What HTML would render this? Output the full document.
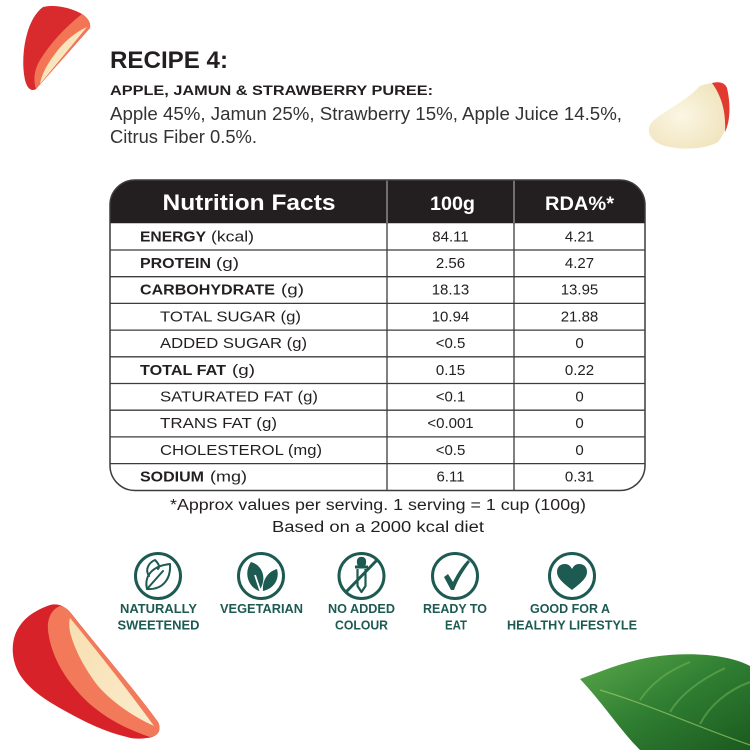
<!DOCTYPE html>
<html><head><meta charset="utf-8"><style>
html,body{margin:0;padding:0;background:#fff;}
svg{display:block;}
text{font-family:"Liberation Sans",sans-serif;}
</style></head><body>
<svg width="750" height="750" viewBox="0 0 750 750" xmlns="http://www.w3.org/2000/svg">
<defs>
<linearGradient id="leafg" x1="0" y1="0" x2="1" y2="1">
<stop offset="0" stop-color="#5aa84a"/><stop offset="0.5" stop-color="#2f7e32"/><stop offset="1" stop-color="#1b5a1f"/>
</linearGradient>
<linearGradient id="core" x1="0" y1="0" x2="1" y2="1">
<stop offset="0" stop-color="#f7dfb0"/><stop offset="1" stop-color="#fbeccc"/>
</linearGradient>
<radialGradient id="apg" cx="0.4" cy="0.5" r="0.7">
<stop offset="0" stop-color="#fbf6e4"/><stop offset="1" stop-color="#efe2b8"/>
</radialGradient>
</defs>

<!-- top-left strawberry -->
<path d="M43,7 C55,4 72,8 82,14 C88,18 91,23 90,28 L36,89 C31,92 27,88 25,80 C22,66 23,48 27,34 C30,23 35,13 43,7 Z" fill="#d92a2e"/>
<path d="M82,14 C88,18 91,23 90,28 L36,89 C33,80 34,70 40,60 C50,44 64,28 82,14 Z" fill="#f27656"/>
<path d="M87,27 L40,84 C42,72 50,60 58,50 C66,40 76,32 87,27 Z" fill="url(#core)"/>

<!-- apple slice -->
<path d="M700,86 C710,82 722,81 727,88 C731,105 730,128 718,142 C705,150 680,150 665,146 C650,142 645,130 652,122 C662,112 685,102 700,86 Z" fill="url(#apg)"/>
<path d="M712,83 C720,81 725,83 727,88 C731,105 730,122 725,132 C726,115 723,98 712,83 Z" fill="#e23a2e"/>

<!-- bottom-left strawberry -->
<path d="M50,605 C58,603 64,606 70,612 C100,650 135,690 158,722 C162,730 158,737 147,738 C140,739 132,739 127,737 C105,732 85,722 67,712 C45,700 30,690 20,675 C12,662 11,647 15,635 C20,622 30,612 50,605 Z" fill="#d8222a"/>
<path d="M60,606 C66,607 69,610 72,615 C100,650 135,690 158,722 C162,730 158,736 150,737 C122,728 95,712 78,692 C60,672 50,650 48,630 C47,618 52,609 60,606 Z" fill="#f27a5a"/>
<path d="M70,618 C98,652 128,690 154,726 C132,716 112,702 98,686 C84,668 74,648 70,632 C69,626 69,621 70,618 Z" fill="url(#core)"/>

<!-- leaf bottom-right -->
<path d="M580,679 C600,672 622,662 652,657 C692,651 730,655 750,666 L750,750 L640,750 C620,730 602,702 580,679 Z" fill="url(#leafg)"/>
<path d="M600,690 C650,705 700,728 750,745" stroke="#9cc86a" stroke-width="1.2" fill="none" opacity="0.7"/>
<g stroke="#7fbf5e" stroke-width="2" fill="none" opacity="0.45">
<path d="M640,700 C650,685 665,672 690,662"/>
<path d="M670,712 C680,695 700,680 725,668"/>
<path d="M700,724 C710,705 728,690 750,682"/>
</g>

<!-- Title -->
<text x="110" y="68" font-size="24" font-weight="bold" fill="#231f20" textLength="118" lengthAdjust="spacingAndGlyphs">RECIPE 4:</text>
<text x="110" y="95" font-size="13.5" font-weight="bold" fill="#231f20" textLength="323" lengthAdjust="spacingAndGlyphs">APPLE, JAMUN &amp; STRAWBERRY PUREE:</text>
<text x="110" y="120" font-size="18.5" fill="#333" textLength="512" lengthAdjust="spacingAndGlyphs">Apple 45%, Jamun 25%, Strawberry 15%, Apple Juice 14.5%,</text>
<text x="110" y="143" font-size="18.5" fill="#333" textLength="147" lengthAdjust="spacingAndGlyphs">Citrus Fiber 0.5%.</text>

<!-- Table -->
<path d="M110,223.3 V205 A25,25 0 0 1 135,180 H620 A25,25 0 0 1 645,205 V223.3 Z" fill="#231f20"/>
<g stroke="#3c3c3c" stroke-width="1.3">
<line x1="110" y1="250" x2="645" y2="250"/>
<line x1="110" y1="276.7" x2="645" y2="276.7"/>
<line x1="110" y1="303.4" x2="645" y2="303.4"/>
<line x1="110" y1="330.1" x2="645" y2="330.1"/>
<line x1="110" y1="356.8" x2="645" y2="356.8"/>
<line x1="110" y1="383.5" x2="645" y2="383.5"/>
<line x1="110" y1="410.2" x2="645" y2="410.2"/>
<line x1="110" y1="436.9" x2="645" y2="436.9"/>
<line x1="110" y1="463.6" x2="645" y2="463.6"/>
<line x1="387" y1="223" x2="387" y2="490.5"/>
<line x1="514" y1="223" x2="514" y2="490.5"/>
</g>
<g stroke="#9a9a9a" stroke-width="1.3">
<line x1="387" y1="180" x2="387" y2="223"/>
<line x1="514" y1="180" x2="514" y2="223"/>
</g>
<rect x="110" y="180" width="535" height="310.5" rx="25" ry="25" fill="none" stroke="#3c3c3c" stroke-width="1.5"/>

<text x="162.5" y="210" font-size="22" font-weight="bold" fill="#fff" textLength="173" lengthAdjust="spacingAndGlyphs">Nutrition Facts</text>
<text x="430" y="210" font-size="19" font-weight="bold" fill="#fff" textLength="45" lengthAdjust="spacingAndGlyphs">100g</text>
<text x="545" y="210" font-size="19" font-weight="bold" fill="#fff" textLength="69" lengthAdjust="spacingAndGlyphs">RDA%*</text>

<g font-size="15" fill="#231f20">
<text x="140" y="241.3" font-weight="bold" textLength="66" lengthAdjust="spacingAndGlyphs">ENERGY</text>
<text x="211" y="241.3" textLength="43" lengthAdjust="spacingAndGlyphs">(kcal)</text>
<text x="140" y="268" font-weight="bold" textLength="71" lengthAdjust="spacingAndGlyphs">PROTEIN</text>
<text x="216" y="268" textLength="23" lengthAdjust="spacingAndGlyphs">(g)</text>
<text x="140" y="294.7" font-weight="bold" textLength="135" lengthAdjust="spacingAndGlyphs">CARBOHYDRATE</text>
<text x="281" y="294.7" textLength="23" lengthAdjust="spacingAndGlyphs">(g)</text>
<text x="160" y="321.4" textLength="141" lengthAdjust="spacingAndGlyphs">TOTAL SUGAR (g)</text>
<text x="160" y="348.1" textLength="147" lengthAdjust="spacingAndGlyphs">ADDED SUGAR (g)</text>
<text x="140" y="374.8" font-weight="bold" textLength="86" lengthAdjust="spacingAndGlyphs">TOTAL FAT</text>
<text x="232" y="374.8" textLength="23" lengthAdjust="spacingAndGlyphs">(g)</text>
<text x="160" y="401.5" textLength="158" lengthAdjust="spacingAndGlyphs">SATURATED FAT (g)</text>
<text x="160" y="428.2" textLength="117" lengthAdjust="spacingAndGlyphs">TRANS FAT (g)</text>
<text x="160" y="454.9" textLength="162" lengthAdjust="spacingAndGlyphs">CHOLESTEROL (mg)</text>
<text x="140" y="481.6" font-weight="bold" textLength="64" lengthAdjust="spacingAndGlyphs">SODIUM</text>
<text x="210" y="481.6" textLength="37" lengthAdjust="spacingAndGlyphs">(mg)</text>
</g>
<g font-size="15" fill="#231f20" text-anchor="middle">
<text x="450.5" y="241.3">84.11</text><text x="579.5" y="241.3">4.21</text>
<text x="450.5" y="268">2.56</text><text x="579.5" y="268">4.27</text>
<text x="450.5" y="294.7">18.13</text><text x="579.5" y="294.7">13.95</text>
<text x="450.5" y="321.4">10.94</text><text x="579.5" y="321.4">21.88</text>
<text x="450.5" y="348.1">&lt;0.5</text><text x="579.5" y="348.1">0</text>
<text x="450.5" y="374.8">0.15</text><text x="579.5" y="374.8">0.22</text>
<text x="450.5" y="401.5">&lt;0.1</text><text x="579.5" y="401.5">0</text>
<text x="450.5" y="428.2">&lt;0.001</text><text x="579.5" y="428.2">0</text>
<text x="450.5" y="454.9">&lt;0.5</text><text x="579.5" y="454.9">0</text>
<text x="450.5" y="481.6">6.11</text><text x="579.5" y="481.6">0.31</text>
</g>

<!-- footnote -->
<text x="170" y="510" font-size="15.5" fill="#231f20" textLength="416" lengthAdjust="spacingAndGlyphs">*Approx values per serving. 1 serving = 1 cup (100g)</text>
<text x="272" y="532" font-size="15.5" fill="#231f20" textLength="212" lengthAdjust="spacingAndGlyphs">Based on a 2000 kcal diet</text>

<!-- icons -->
<g stroke="#1d5a52" stroke-width="3" fill="none">
<circle cx="158" cy="576" r="22.5"/>
<circle cx="261" cy="576" r="22.5"/>
<circle cx="361.5" cy="576" r="22.5"/>
<circle cx="455" cy="576" r="22.5"/>
<circle cx="572" cy="576" r="22.5"/>
</g>
<g stroke="#1d5a52" stroke-width="2" fill="none" stroke-linejoin="round" stroke-linecap="round">
<path d="M147,589 C144,576 152,566 170,564 C171,580 162,590 147,589 Z"/>
<path d="M147,589 L163,571"/>
<path d="M149,576 C145,570 148,563 155,560 C159,564 160,567 158,569"/>
</g>
<g fill="#1d5a52">
<path d="M259,591 C247,586 244,572 251,562 C262,565 268,578 259,591 Z"/>
<path d="M263,591 C262,581 267,572 277,569 C280,580 273,589 263,591 Z"/>
</g>
<path d="M255,575 L260,590" stroke="#fff" stroke-width="1.8"/>
<g stroke="#1d5a52" stroke-width="2.2" fill="none" stroke-linejoin="round">
<rect x="358" y="558" width="7" height="8" rx="3" fill="#1d5a52"/>
<line x1="355" y1="567" x2="368" y2="567" stroke-width="3"/>
<path d="M357.5,569 L357.5,586 L361.5,592 L365.5,586 L365.5,569"/>
<line x1="377" y1="560" x2="346" y2="592" stroke-width="3"/>
</g>
<path d="M444,577 L448,574 L453,582 C458,572 463,565 468,560 L470,562 C464,570 458,579 454,590 L451,590 Z" fill="#1d5a52"/>
<path d="M572,590 C566,585 557,579 557,572 C557,566 561,564 565,564 C569,564 571,567 572,569 C573,567 575,564 579,564 C583,564 587,566 587,572 C587,579 578,585 572,590 Z" fill="#1d5a52"/>

<g font-size="12.5" font-weight="bold" fill="#1d5a52" text-anchor="middle">
<text x="158.5" y="613" textLength="77" lengthAdjust="spacingAndGlyphs">NATURALLY</text>
<text x="158.5" y="629.5" textLength="82" lengthAdjust="spacingAndGlyphs">SWEETENED</text>
<text x="261.5" y="613" textLength="83" lengthAdjust="spacingAndGlyphs">VEGETARIAN</text>
<text x="361.5" y="613" textLength="67" lengthAdjust="spacingAndGlyphs">NO ADDED</text>
<text x="361.5" y="629.5" textLength="53" lengthAdjust="spacingAndGlyphs">COLOUR</text>
<text x="455" y="613" textLength="64" lengthAdjust="spacingAndGlyphs">READY TO</text>
<text x="456" y="629.5" textLength="22" lengthAdjust="spacingAndGlyphs">EAT</text>
<text x="570" y="613" textLength="80" lengthAdjust="spacingAndGlyphs">GOOD FOR A</text>
<text x="572" y="629.5" textLength="130" lengthAdjust="spacingAndGlyphs">HEALTHY LIFESTYLE</text>
</g>
</svg>
</body></html>
